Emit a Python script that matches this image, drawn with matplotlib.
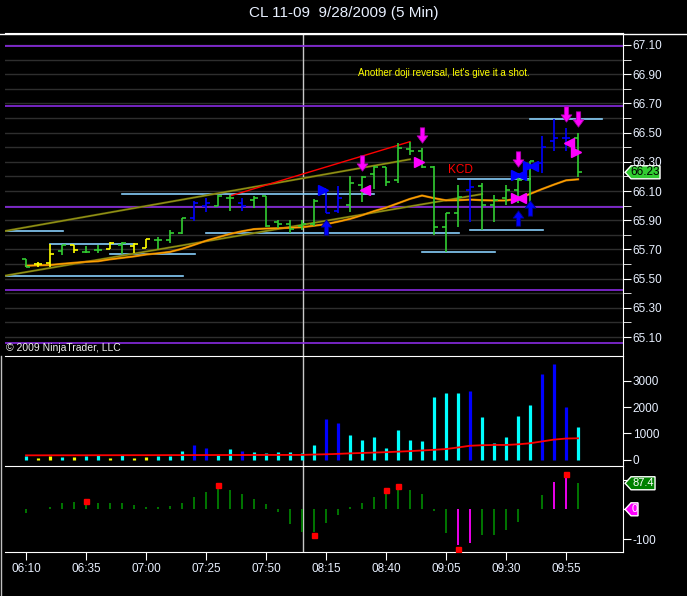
import matplotlib
matplotlib.use('Agg')
import matplotlib.pyplot as plt
from matplotlib.path import Path
from matplotlib.patches import Polygon
from matplotlib.transforms import IdentityTransform
import numpy as np

plt.rcParams['font.family'] = ['Liberation Sans', 'DejaVu Sans']

# ---------------------------------------------------------------- data
# 5 minute bars, 06:10 .. 10:00
opens  = [65.636, 65.598, 65.605, 65.687, 65.730, 65.684, 65.696, 65.701, 65.730, 65.725,
          65.708, 65.764, 65.764, 65.810, 65.915, 66.000, 65.999, 66.050, 66.020, 66.040,
          66.066, 65.885, 65.872, 65.860, 65.874, 66.112, 65.963, 66.004, 66.141, 66.216,
          66.266, 66.175, 66.390, 66.376, 66.266, 65.855, 65.947, 66.110, 66.134, 66.004,
          66.050, 66.107, 66.175, 66.294, 66.442, 66.461, 66.461]
highs  = [65.636, 65.612, 65.737, 65.728, 65.730, 65.723, 65.730, 65.749, 65.749, 65.742,
          65.769, 65.783, 65.833, 65.913, 66.032, 66.054, 66.073, 66.073, 66.054, 66.066,
          66.066, 65.901, 65.901, 65.901, 66.043, 66.112, 66.134, 66.203, 66.203, 66.273,
          66.266, 66.427, 66.438, 66.397, 66.273, 65.947, 66.141, 66.175, 66.153, 66.073,
          66.141, 66.221, 66.305, 66.477, 66.591, 66.534, 66.495]
lows   = [65.579, 65.582, 65.579, 65.662, 65.677, 65.677, 65.677, 65.701, 65.668, 65.673,
          65.708, 65.701, 65.742, 65.805, 65.897, 65.958, 65.999, 65.963, 65.963, 65.982,
          65.855, 65.845, 65.810, 65.833, 65.860, 65.947, 65.947, 65.958, 66.026, 66.114,
          66.134, 66.157, 66.347, 66.260, 65.799, 65.680, 65.855, 65.890, 65.833, 65.890,
          66.004, 66.016, 65.963, 66.221, 66.374, 66.374, 66.194]
closes = [65.579, 65.598, 65.666, 65.728, 65.696, 65.684, 65.696, 65.746, 65.746, 65.739,
          65.769, 65.764, 65.810, 65.913, 66.020, 66.020, 66.066, 66.050, 66.000, 66.050,
          65.860, 65.872, 65.840, 65.872, 66.034, 65.947, 66.050, 66.153, 66.198, 66.266,
          66.160, 66.392, 66.376, 66.266, 65.855, 65.947, 66.061, 66.129, 66.004, 66.040,
          66.107, 66.175, 66.305, 66.400, 66.461, 66.461, 66.228]
bar_kind = ['g', 'y', 'y', 'g', 'y', 'g', 'g', 'y', 'g', 'y',
            'y', 'g', 'g', 'g', 'b', 'b', 'g', 'g', 'b', 'g',
            'g', 'g', 'g', 'g', 'g', 'b', 'b', 'g', 'g', 'g',
            'g', 'g', 'g', 'g', 'g', 'g', 'g', 'b', 'g', 'g',
            'g', 'g', 'g', 'b', 'b', 'b', 'g']

price_ma = [65.588, 65.591, 65.593, 65.601, 65.608, 65.615, 65.619, 65.632, 65.642, 65.652,
            65.665, 65.673, 65.683, 65.704, 65.731, 65.759, 65.783, 65.806, 65.824, 65.839,
            65.843, 65.845, 65.848, 65.852, 65.862, 65.873, 65.890, 65.909, 65.934, 65.962,
            65.986, 66.016, 66.046, 66.069, 66.051, 66.036, 66.037, 66.041, 66.037, 66.035,
            66.035, 66.048, 66.080, 66.113, 66.144, 66.173, 66.180]

volume = [130, 60, 130, 95, 95, 130, 185, 60, 185, 60,
          95, 130, 130, 325, 555, 425, 185, 400, 325, 285,
          250, 285, 285, 250, 555, 1545, 1390, 935, 745, 860,
          440, 1125, 745, 705, 2385, 2540, 2540, 2615, 1620, 630,
          860, 1660, 2080, 3265, 3645, 2005, 1240]
volume_ma = [160, 160, 161, 162, 162, 163, 164, 164, 165, 166,
             166, 167, 168, 168, 169, 170, 171, 172, 172, 173,
             174, 174, 175, 175, 190, 200, 215, 235, 250, 265,
             280, 300, 320, 345, 370, 400, 460, 525, 545, 555,
             555, 580, 620, 690, 760, 800, 810]

osc = [-11, 0, 9, 20, 26, 26, 22, 22, 20, 16,
       9, 9, 12, 22, 42, 59, 69, 66, 52, 36,
       18, -8, -50, -76, -76, -46, -19, 9, 22, 42,
       56, 69, 66, 52, -6, -80, -119, -113, -85, -85,
       -69, -44, 0, 48, 91, 106, 87.4]
osc_hot = [36, 37, 44, 45]
osc_dot_idx = [5, 16, 24, 30, 31, 36, 45]
osc_dot_val = [29, 82, -86, 65, 79, -132, 119]

purple_levels = [67.093, 66.682, 65.990, 65.420, 65.059]
# support / resistance segments: (start bar, end bar, price)
sr_lines = [(-1.75, 3.1, 65.826), (2, 8.9, 65.737), (7, 14.1, 65.666), (-1.75, 13.1, 65.520),
            (8, 29, 66.077), (15, 36.1, 65.810), (36, 42, 66.180), (37, 43.1, 65.833),
            (33, 39.1, 65.680), (42, 48, 66.591)]
olive_lines = [((-1.75, 65.826), (32, 66.317)), ((-1.75, 65.520), (38, 66.079))]
red_line = ((17, 66.066), (32, 66.438))

down_arrows_idx = [28, 33, 41, 45, 46]
down_arrows_val = [66.295, 66.484, 66.316, 66.624, 66.590]
up_arrows_idx = [25, 41, 42]
up_arrows_val = [65.853, 65.918, 65.984]
# triangles: (bar, price, direction, colour)
triangles = [(25, 66.110, '>', 'b'), (28, 66.110, '<', 'm'), (33, 66.300, '>', 'm'),
             (41, 66.213, '>', 'b'), (41, 66.213, '<', 'b'),
             (42, 66.270, '>', 'b'), (42, 66.270, '<', 'b'),
             (41, 66.050, '>', 'm'), (41, 66.050, '<', 'm'),
             (45, 66.432, '<', 'm'), (46, 66.364, '>', 'm')]

tick_idx = [0, 5, 10, 15, 20, 25, 30, 35, 40, 45]
tick_lbl = ['06:10', '06:35', '07:00', '07:25', '07:50', '08:15', '08:40', '09:05', '09:30', '09:55']
cross_x = 23.08

# ---------------------------------------------------------------- style
BG = '#000000'
FG = '#e8f0ff'
col_price = {'g': '#32cd32', 'y': '#ffff00', 'b': '#0000ff'}
col_vol = {'g': '#00ffff', 'y': '#ffff00', 'b': '#0000ff'}
col_tri = {'b': '#0000ff', 'm': '#ff00ff'}

arrow_down = Path([(-0.28, 1), (0.28, 1), (0.28, -0.05), (0.7, -0.05), (0, -1),
                   (-0.7, -0.05), (-0.28, -0.05), (-0.28, 1)], closed=True)
arrow_up = Path([(x, -y) for x, y in arrow_down.vertices], closed=True)

fig = plt.figure(figsize=(6.87, 5.96), dpi=100, facecolor=BG)
ax_p = fig.add_axes([0.00728, 0.4027, 0.8996, 0.5419], facecolor=BG)
ax_v = fig.add_axes([0.00728, 0.2181, 0.8996, 0.1846], facecolor=BG, sharex=ax_p)
ax_o = fig.add_axes([0.00728, 0.0738, 0.8996, 0.1443], facecolor=BG, sharex=ax_p)

for ax in (ax_p, ax_v, ax_o):
    for s in ('left', 'bottom', 'top'):
        ax.spines[s].set_visible(False)
    ax.spines['right'].set_color('white')
    ax.spines['top'].set_visible(True)
    ax.spines['top'].set_color('white')
    ax.yaxis.tick_right()
    ax.tick_params(axis='y', colors='white', labelcolor=FG, direction='out', length=6, labelsize=8.5, pad=1)
    ax.tick_params(axis='x', bottom=False, labelbottom=False)
    ax.axvline(cross_x, color='#c8c8c8', lw=1, zorder=1)
ax_o.spines['bottom'].set_visible(True)
ax_o.spines['bottom'].set_color('white')
ax_o.tick_params(axis='x', bottom=True, labelbottom=True, colors='white', labelcolor=FG,
                 direction='out', length=6, labelsize=8.5, pad=2)

x = np.arange(len(opens))
ax_p.set_xlim(-1.75, 49.75)

# ---------------------------------------------------------------- price panel
ax_p.set_ylim(64.97, 67.182)
for lvl in np.arange(65.1, 67.15, 0.1):
    ax_p.axhline(lvl, color='#2e2e2e', lw=1, zorder=0)
for lvl in purple_levels:
    ax_p.axhline(lvl, color='#8a2be2', lw=1.2, zorder=1)
ax_p.set_yticks(np.arange(65.1, 67.15, 0.2))
ax_p.set_yticklabels(['%.2f' % v for v in np.arange(65.1, 67.15, 0.2)])
ax_p.set_yticks(np.arange(65.2, 67.15, 0.2), minor=True)
ax_p.tick_params(axis='y', which='minor', colors='white', length=6)

for (x0, x1, p) in sr_lines:
    ax_p.plot([x0, x1], [p, p], color='#87cefa', lw=1.2, zorder=2)
for (a, b) in olive_lines:
    ax_p.plot([a[0], b[0]], [a[1], b[1]], color='#6e6e08', lw=1.5, zorder=2)
    ax_p.plot([a[0], b[0]], [a[1], b[1]], color='#a0a020', lw=0.5, zorder=2)
ax_p.plot([red_line[0][0], red_line[1][0]], [red_line[0][1], red_line[1][1]], color='#ff0000', lw=1, zorder=2)
ax_p.plot(x, price_ma, color='#c07000', lw=1.6, zorder=3)
ax_p.plot(x, price_ma, color='#ffa500', lw=0.8, zorder=3)

for i in x:
    c = col_price[bar_kind[i]]
    ax_p.plot([i, i], [lows[i], highs[i]], color=c, lw=1.2, zorder=4, solid_capstyle='butt')
    ax_p.plot([i - 0.33, i], [opens[i], opens[i]], color=c, lw=1.2, zorder=4, solid_capstyle='butt')
    ax_p.plot([i, i + 0.33], [closes[i], closes[i]], color=c, lw=1.2, zorder=4, solid_capstyle='butt')

ax_p.plot(down_arrows_idx, down_arrows_val, ls='none', marker=arrow_down, ms=11,
          mfc='#ff00ff', mec='#b000b0', mew=0.6, zorder=6)
ax_p.plot(up_arrows_idx, up_arrows_val, ls='none', marker=arrow_up, ms=11,
          mfc='#0000ff', mec='#000090', mew=0.6, zorder=6)
for (i, p, d, c) in triangles:
    off = -0.21 if d == '>' else 0.21
    ax_p.plot(i + off, p, ls='none', marker=d, ms=6.5, mfc=col_tri[c], mec=col_tri[c], zorder=6)

ax_p.text(27.67, 66.908, "Another doji reversal, let's give it a shot.", color='#ffff00',
          fontsize=7, va='center', ha='left')
ax_p.text(36.17, 66.244, 'KCD', color='#ff0000', fontsize=8.5, va='center', ha='center')
ax_p.text(0.002, 0.025, '\u00a9 2009 NinjaTrader, LLC', color='#f0f0f0', fontsize=7.5,
          transform=ax_p.transAxes, va='center', ha='left')

# ---------------------------------------------------------------- volume panel
ax_v.set_ylim(-248, 3950)
ax_v.vlines(x, 0, volume, colors=[col_vol[k] for k in bar_kind], lw=2.3, zorder=3)
ax_v.plot(x, volume_ma, color='#ff0000', lw=1.3, zorder=4)
ax_v.set_yticks([0, 1000, 2000, 3000])

# ---------------------------------------------------------------- oscillator panel
ax_o.set_ylim(-143.3, 145.3)
osc_cols = ['#ff00ff' if i in osc_hot else '#008000' for i in x]
ax_o.vlines(x, 0, osc, colors=osc_cols, lw=1.3, zorder=3)
ax_o.plot(osc_dot_idx, osc_dot_val, ls='none', marker='s', ms=3.6, color='#ff0000', zorder=4)
ax_o.set_yticks([-100, 0, 100])
ax_o.set_yticklabels(['-100', '', ''])
ax_o.set_xticks(tick_idx)
ax_o.set_xticklabels(tick_lbl)


def tag(ax, val, txt, fc, tc, w, fs=8.5):
    x0 = ax.transAxes.transform((1, 0))[0]
    y0 = ax.transData.transform((0, val))[1]
    h = 6.5
    pts = [(x0 + 2, y0), (x0 + 8, y0 + h), (x0 + 8 + w, y0 + h), (x0 + 8 + w, y0 - h), (x0 + 8, y0 - h)]
    ax.add_patch(Polygon(pts, closed=True, transform=IdentityTransform(), fc=fc, ec='white',
                         lw=1, clip_on=False, zorder=10))
    ax.text(x0 + 8 + w / 2.0, y0, txt, transform=IdentityTransform(), color=tc, fontsize=fs,
            ha='center', va='center', clip_on=False, zorder=11)


tag(ax_p, closes[-1], '%.2f' % closes[-1], '#32cd32', '#000000', 29)
tag(ax_o, osc[-1], '%.1f' % osc[-1], '#008000', '#ffffff', 24, 8)
tag(ax_o, 0, '0', '#ff00ff', '#ffffff', 7, 8)

fig.text(0.5, 1 - 13 / 596, 'CL 11-09  9/28/2009 (5 Min)', color=FG, fontsize=11,
         ha='center', va='center')
fig.add_artist(plt.Line2D([0, 1], [1 - 33.5 / 596, 1 - 33.5 / 596], color='white', lw=1,
                          transform=fig.transFigure))
fig.add_artist(plt.Line2D([0.001, 0.001], [0, 1 - 356 / 596], color='#c0c0c0', lw=1,
                          transform=fig.transFigure))

fig.savefig('out.png', dpi=100, facecolor=BG)
